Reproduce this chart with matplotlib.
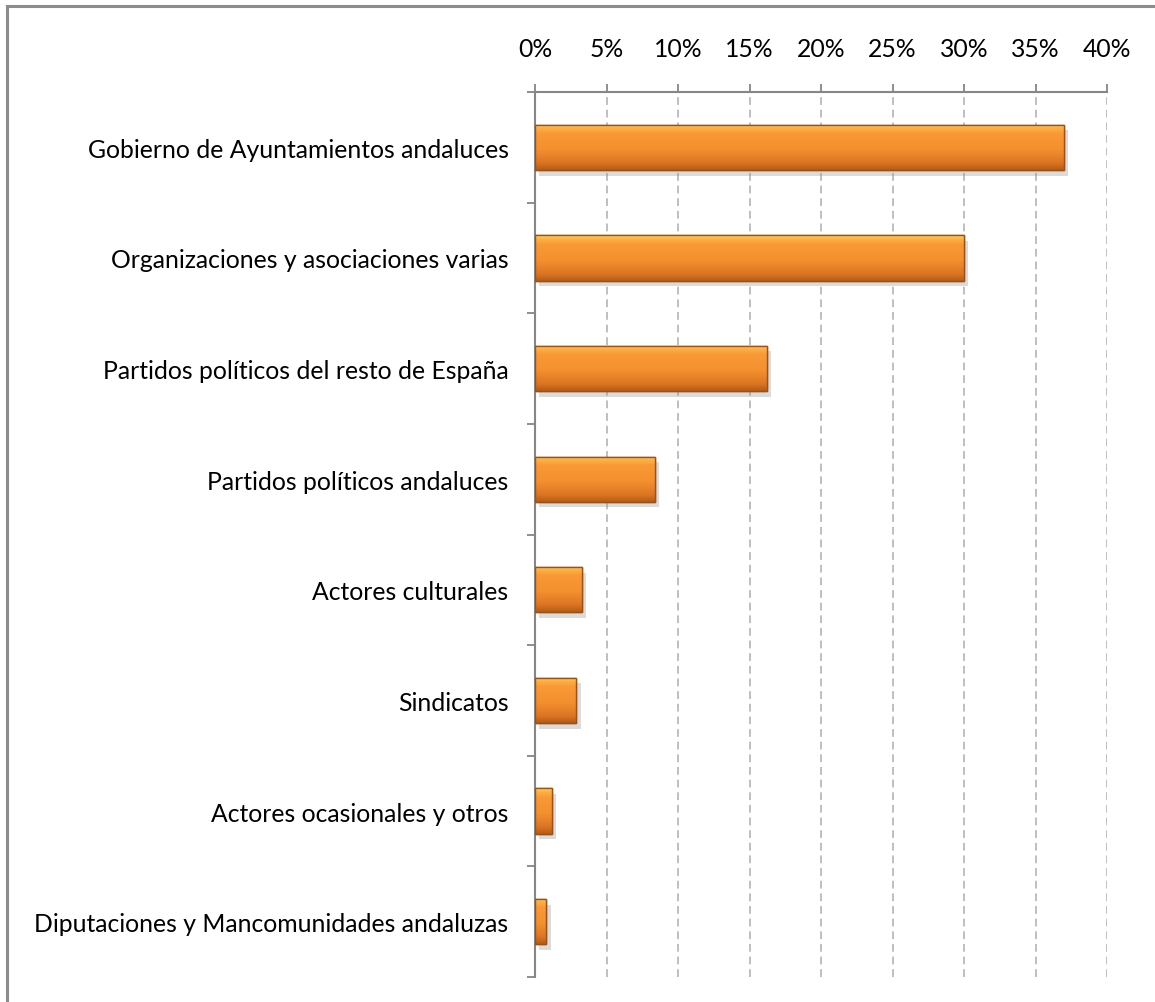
import numpy as np
import matplotlib
matplotlib.use("Agg")
import matplotlib.pyplot as plt
import matplotlib.patheffects as pe
from matplotlib.colors import LinearSegmentedColormap
from matplotlib.lines import Line2D

plt.rcParams['font.family'] = ['Lato', 'DejaVu Sans']

# datos (porcentaje)
categorias = ["Gobierno de Ayuntamientos andaluces",
              "Organizaciones y asociaciones varias",
              "Partidos políticos del resto de España",
              "Partidos políticos andaluces",
              "Actores culturales",
              "Sindicatos",
              "Actores ocasionales y otros",
              "Diputaciones y Mancomunidades andaluzas"]
valores = [37.0, 30.0, 16.2, 8.4, 3.3, 2.9, 1.2, 0.8]
ticks_x = [0, 5, 10, 15, 20, 25, 30, 35, 40]

W, H = 1155, 1003
fig = plt.figure(figsize=(W/100, H/100), dpi=100)
ax = fig.add_axes([535/W, 1-978/H, (1107-535)/W, (978-93)/H])

# marco gris (arriba e izquierda)
fig.add_artist(Line2D([7/W, 7/W], [0, 1-7/H], color='#8c8c8c', lw=2.2, transform=fig.transFigure))
fig.add_artist(Line2D([7/W, 1], [1-7/H, 1-7/H], color='#8c8c8c', lw=2.2, transform=fig.transFigure))

alto = 0.41
ypos = np.arange(len(categorias))
bars = ax.barh(ypos, valores, height=alto, color='#F59433', edgecolor='#9E5114',
               linewidth=1.0, zorder=3,
               path_effects=[pe.SimplePatchShadow(offset=(3, -4), shadow_rgbFace='#999999', alpha=0.35),
                             pe.Normal()])

# degradado tipo Excel
cmap = LinearSegmentedColormap.from_list('naranja', [
    (0.0, '#FFD25C'), (0.08, '#FBB146'), (0.2, '#F99936'),
    (0.55, '#F4902F'), (0.85, '#DC7422'), (1.0, '#B35E17')])
grad = np.linspace(0, 1, 100).reshape(-1, 1)
for b, v, y in zip(bars, valores, ypos):
    im = ax.imshow(grad, cmap=cmap, aspect='auto', zorder=3.5,
                   extent=[0, v, y + alto/2, y - alto/2], interpolation='bilinear')
    im.set_clip_path(b)
    ax.barh(y, v, height=alto, facecolor='none', edgecolor='#9E5114', linewidth=1.0, zorder=4)

ax.set_xlim(0, 40)
ax.set_ylim(len(categorias) - 0.5, -0.5)
ax.set_aspect('auto')

ax.xaxis.tick_top()
ax.set_xticks(ticks_x)
ax.set_xticklabels([f"{t}%" for t in ticks_x])
ax.tick_params(axis='x', length=6, width=1.3, color='#868686', pad=17, labelsize=17.8)

ax.set_yticks(ypos)
ax.set_yticklabels(categorias)
ax.set_yticks(np.arange(len(categorias) + 1) - 0.5, minor=True)
ax.tick_params(axis='y', which='major', length=0, pad=19, labelsize=17.8)
ax.tick_params(axis='y', which='minor', length=6, width=1.3, color='#868686')

ax.grid(axis='x', color='#BFBFBF', linestyle=(0, (4, 2.5)), linewidth=1.4, zorder=0)
ax.set_axisbelow(True)

for s in ['right', 'bottom']:
    ax.spines[s].set_visible(False)
for s in ['left', 'top']:
    ax.spines[s].set_color('#868686')
    ax.spines[s].set_linewidth(1.5)

fig.savefig('out.png', dpi=100)
